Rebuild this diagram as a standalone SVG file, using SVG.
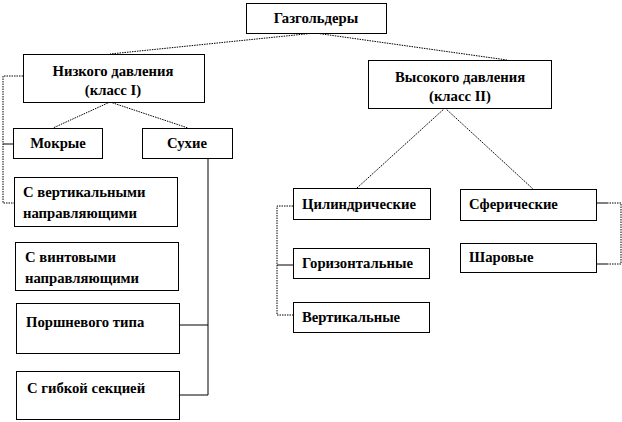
<svg xmlns="http://www.w3.org/2000/svg" width="622" height="422" viewBox="0 0 622 422">
<style>
.box{fill:#fff;stroke:#000;stroke-width:1}
.t{font-family:"Liberation Serif","DejaVu Serif",serif;font-weight:bold;font-size:14.7px;fill:#000}
.c{text-anchor:middle}
.dot{fill:none;stroke:#000;stroke-width:1;stroke-dasharray:1.5 1}
.sol{fill:none;stroke:#000;stroke-width:1}
</style>
<rect width="622" height="422" fill="#fff"/>
<g id="connectors">
<path class="dot" d="M315 33 L110 54 M315 33 L507 60"/>
<path class="dot" d="M110 102 L53 128 M110 102 L188 128"/>
<path class="dot" d="M445 108 L357 188 M445 108 L533 189"/>
<path class="dot" d="M23 76 L3 76 L3 203 L14 203"/>
<path class="sol" d="M3 144 L13 144"/>
<path class="sol" d="M208 158 L208 395 L179 395 M208 325 L179 325"/>
<path class="dot" d="M293 206 L277 206 L277 315 L293 315"/>
<path class="sol" d="M277 265 L293 265"/>
<path class="sol" d="M596 203 L607 203"/>
<path class="dot" d="M607 203 L621 203 L621 264 L607 264"/>
<path class="sol" d="M607 264 L596 264"/>
</g>
<g id="n-gas"><rect class="box" x="246.5" y="3.5" width="140" height="30"/><text class="t c" x="316" y="23">Газгольдеры</text></g>
<g id="n-low"><rect class="box" x="23.5" y="54.5" width="181" height="48"/><text class="t c" x="113" y="76">Низкого давления</text><text class="t c" x="113" y="95">(класс I)</text></g>
<g id="n-high"><rect class="box" x="368.5" y="60.5" width="183" height="48"/><text class="t c" x="460" y="82">Высокого давления</text><text class="t c" x="460" y="101">(класс II)</text></g>
<g id="n-wet"><rect class="box" x="13.5" y="128.5" width="89" height="30"/><text class="t c" x="58" y="148">Мокрые</text></g>
<g id="n-dry"><rect class="box" x="142.5" y="128.5" width="90" height="30"/><text class="t c" x="187" y="148">Сухие</text></g>
<g id="n-vert"><rect class="box" x="14.5" y="177.5" width="163" height="49"/><text class="t" x="23" y="197">С вертикальными</text><text class="t" x="23" y="218">направляющими</text></g>
<g id="n-screw"><rect class="box" x="15.5" y="242.5" width="163" height="48"/><text class="t" x="25" y="262">С винтовыми</text><text class="t" x="25" y="283">направляющими</text></g>
<g id="n-piston"><rect class="box" x="16.5" y="303.5" width="163" height="50"/><text class="t" x="26" y="327">Поршневого типа</text></g>
<g id="n-flex"><rect class="box" x="16.5" y="371.5" width="163" height="48"/><text class="t" x="27" y="393">С гибкой секцией</text></g>
<g id="n-cyl"><rect class="box" x="293.5" y="188.5" width="137" height="31"/><text class="t" x="302" y="209">Цилиндрические</text></g>
<g id="n-hor"><rect class="box" x="293.5" y="248.5" width="136" height="30"/><text class="t" x="302" y="268">Горизонтальные</text></g>
<g id="n-ver"><rect class="box" x="293.5" y="302.5" width="136" height="30"/><text class="t" x="302" y="322">Вертикальные</text></g>
<g id="n-sph"><rect class="box" x="460.5" y="189.5" width="136" height="31"/><text class="t" x="469" y="209">Сферические</text></g>
<g id="n-ball"><rect class="box" x="460.5" y="243.5" width="136" height="29"/><text class="t" x="469" y="262">Шаровые</text></g>
</svg>
